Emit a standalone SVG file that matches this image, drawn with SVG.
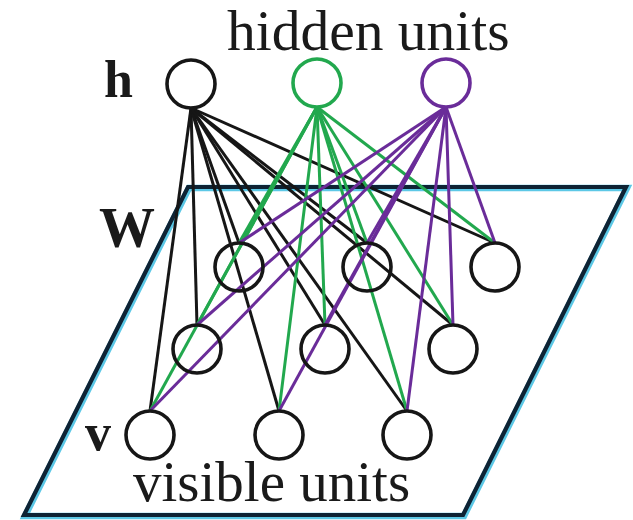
<svg xmlns="http://www.w3.org/2000/svg" width="633" height="520" viewBox="0 0 633 520">
<style>
.node{fill:none;stroke:#161616;stroke-width:3.6}
.k{stroke:#161616;stroke-width:3}
.g{stroke:#22a84e;stroke-width:3}
.p{stroke:#6a2c99;stroke-width:3}
.lbl{font-family:"Liberation Serif","Times New Roman",serif;fill:#1a1a1a}
.b{font-weight:bold}
</style>
<rect width="633" height="520" fill="#ffffff"/>
<g id="plane">
<polygon points="188,187 626,187 463,515 24,515" fill="none" stroke="#5cc8e6" stroke-width="6.5" stroke-linejoin="miter" transform="translate(1,1)"/>
<polygon points="188,187 626,187 463,515 24,515" fill="none" stroke="#0e2334" stroke-width="4.2" stroke-linejoin="miter"/>
</g>
<g id="connectors">
<g class="k">
<line x1="191" y1="108" x2="239" y2="243"/>
<line x1="191" y1="108" x2="367" y2="243"/>
<line x1="191" y1="108" x2="495" y2="243"/>
<line x1="191" y1="108" x2="197" y2="325"/>
<line x1="191" y1="108" x2="325" y2="325"/>
<line x1="191" y1="108" x2="453" y2="325"/>
<line x1="191" y1="108" x2="150" y2="411"/>
<line x1="191" y1="108" x2="279" y2="411"/>
<line x1="191" y1="108" x2="407" y2="411"/>
</g>
<g class="g">
<line x1="317" y1="107" x2="239" y2="243"/>
<line x1="317" y1="107" x2="367" y2="243"/>
<line x1="317" y1="107" x2="495" y2="243"/>
<line x1="317" y1="107" x2="197" y2="325"/>
<line x1="317" y1="107" x2="325" y2="325"/>
<line x1="317" y1="107" x2="453" y2="325"/>
<line x1="317" y1="107" x2="150" y2="411"/>
<line x1="317" y1="107" x2="279" y2="411"/>
<line x1="317" y1="107" x2="407" y2="411"/>
</g>
<g class="p">
<line x1="446" y1="107" x2="239" y2="243"/>
<line x1="446" y1="107" x2="367" y2="243"/>
<line x1="446" y1="107" x2="495" y2="243"/>
<line x1="446" y1="107" x2="197" y2="325"/>
<line x1="446" y1="107" x2="325" y2="325"/>
<line x1="446" y1="107" x2="453" y2="325"/>
<line x1="446" y1="107" x2="150" y2="411"/>
<line x1="446" y1="107" x2="279" y2="411"/>
<line x1="446" y1="107" x2="407" y2="411"/>
</g>
</g>
<g id="h1"><circle class="node" cx="191" cy="84" r="24"/></g>
<g id="h2"><circle class="node" cx="317" cy="83" r="24" style="stroke:#22a84e"/></g>
<g id="h3"><circle class="node" cx="446" cy="83" r="24" style="stroke:#6a2c99"/></g>
<g id="v1"><circle class="node" cx="239" cy="267" r="24"/></g>
<g id="v2"><circle class="node" cx="367" cy="267" r="24"/></g>
<g id="v3"><circle class="node" cx="495" cy="267" r="24"/></g>
<g id="v4"><circle class="node" cx="197" cy="349" r="24"/></g>
<g id="v5"><circle class="node" cx="325" cy="349" r="24"/></g>
<g id="v6"><circle class="node" cx="453" cy="349" r="24"/></g>
<g id="v7"><circle class="node" cx="150" cy="435" r="24"/></g>
<g id="v8"><circle class="node" cx="279" cy="435" r="24"/></g>
<g id="v9"><circle class="node" cx="407" cy="435" r="24"/></g>
<g id="labels">
<text class="lbl" x="227" y="50" font-size="57.5">hidden units</text>
<text class="lbl b" x="104" y="97" font-size="52">h</text>
<text class="lbl b" x="99" y="247" font-size="56">W</text>
<text class="lbl b" x="85" y="450" font-size="52">v</text>
<text class="lbl" x="133" y="501" font-size="57">visible units</text>
</g>
</svg>
